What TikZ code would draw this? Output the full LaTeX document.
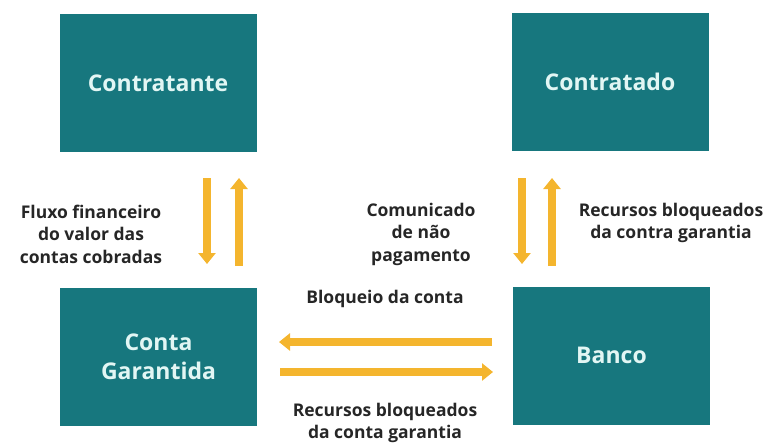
\documentclass[tikz,border=0pt]{standalone}
\usepackage{fontspec}
\setmainfont{Open Sans}
\usetikzlibrary{arrows.meta}
\definecolor{boxteal}{HTML}{17777E}
\definecolor{boxtext}{HTML}{E2F6F4}
\definecolor{arrowgold}{HTML}{F4B52E}
\definecolor{labeltext}{HTML}{262626}
\tikzset{
  party/.style={fill=boxteal, draw=none, minimum width=197pt, minimum height=138pt, inner sep=0pt,
    text=boxtext, font=\fontsize{23}{29}\selectfont\bfseries, align=center},
  flow/.style={draw=arrowgold, line width=8pt, -{Triangle[width=17pt,length=11pt]}},
  lbl/.style={text=labeltext, font=\fontsize{17.5}{22.5}\selectfont\bfseries, align=center, inner sep=0pt}
}
\begin{document}
\begin{tikzpicture}[x=1pt,y=-1pt]
\useasboundingbox (0,0) rectangle (773,445);
\node[party] (contratante) at (158,83) {Contratante};
\node[party] (contratado) at (610,82) {Contratado};
\node[party] (conta) at (158.5,357) {Conta\\Garantida};
\node[party] (banco) at (611.5,355.5) {Banco};

\coordinate (l1s) at (207,178); \coordinate (l1e) at (207,264);
\coordinate (l2s) at (239,266); \coordinate (l2e) at (239,178);
\coordinate (r1s) at (522,178); \coordinate (r1e) at (522,264);
\coordinate (r2s) at (552,266); \coordinate (r2e) at (552,178);
\coordinate (h1s) at (492,342); \coordinate (h1e) at (279,342);
\coordinate (h2s) at (280,372); \coordinate (h2e) at (493,372);

\draw[flow] (l1s) -- (l1e);
\draw[flow] (l2s) -- (l2e);
\draw[flow] (r1s) -- (r1e);
\draw[flow] (r2s) -- (r2e);
\draw[flow] (h1s) -- (h1e);
\draw[flow] (h2s) -- (h2e);

\node[lbl] (fluxo) at (91,234) {Fluxo financeiro\\do valor das\\contas cobradas};
\node[lbl] (comunicado) at (421,234) {Comunicado\\de não\\pagamento};
\node[lbl] (recc) at (671,223) {Recursos bloqueados\\da contra garantia};
\node[lbl] (bloq) at (385,299) {Bloqueio da conta};
\node[lbl] (recg) at (385,423) {Recursos bloqueados\\da conta garantia};
\end{tikzpicture}
\end{document}
